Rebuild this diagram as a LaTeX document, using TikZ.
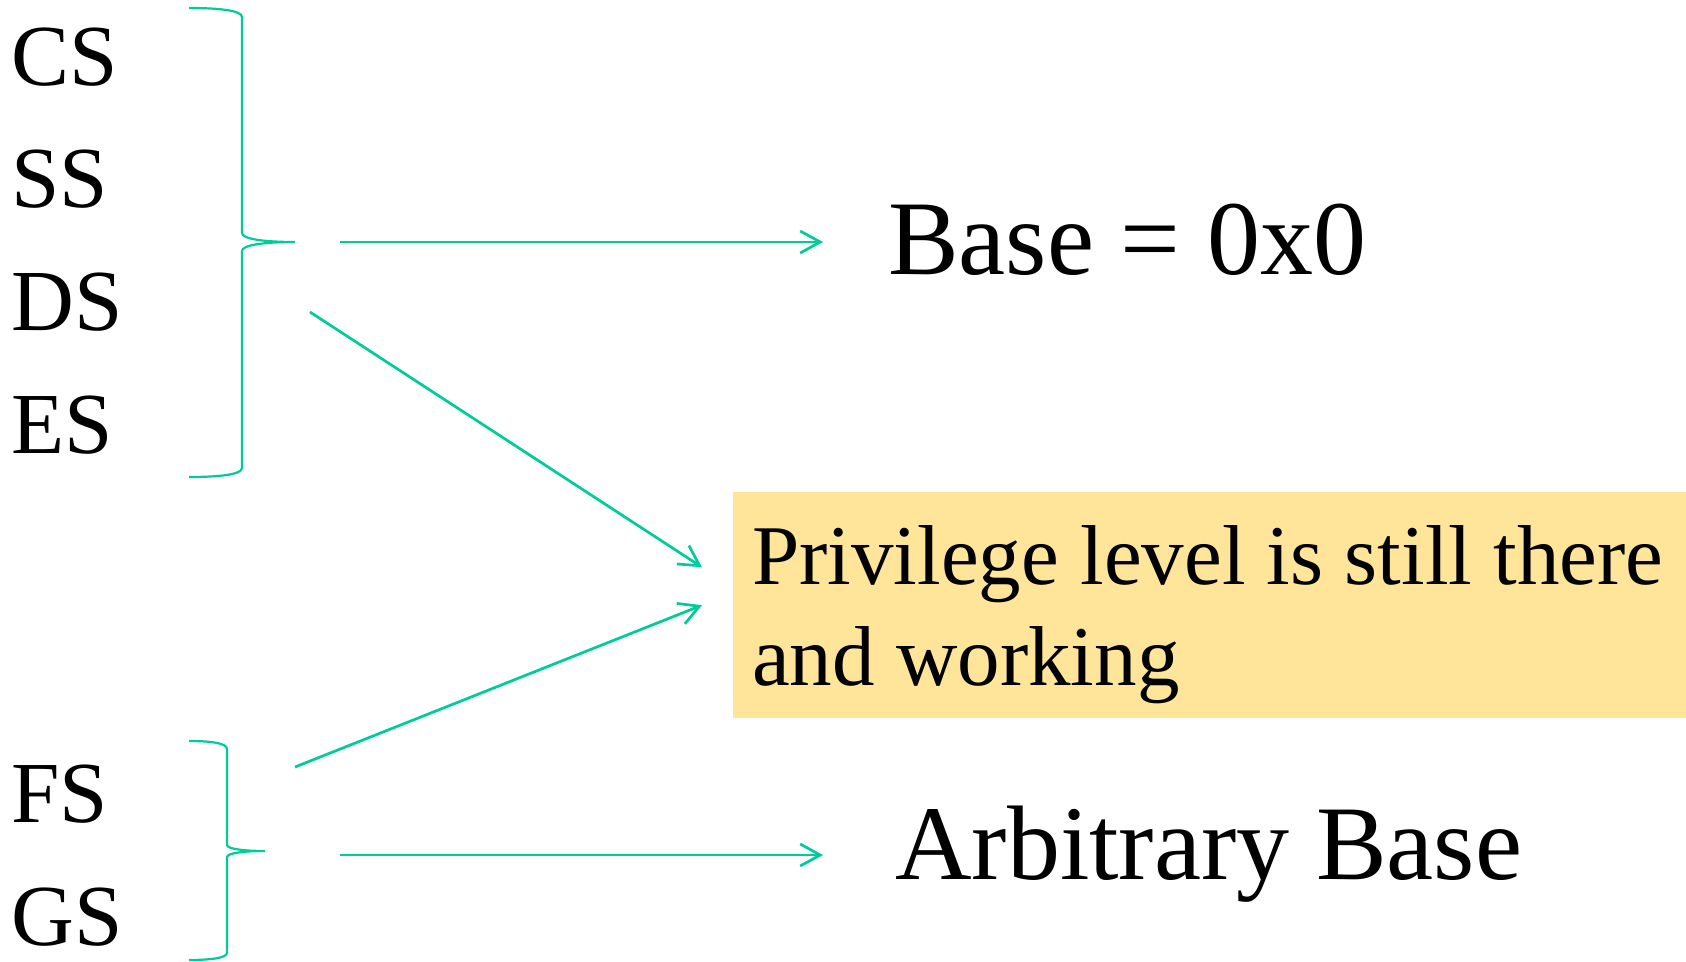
\documentclass[tikz,border=0pt]{standalone}
\usepackage{fontspec}
\setmainfont{Liberation Serif}
\usetikzlibrary{arrows.meta}
\definecolor{segline}{RGB}{0,204,153}
\definecolor{noteyellow}{RGB}{255,229,153}
\tikzstyle{seg} = [anchor = base west, inner sep = 0, font = \fontsize{87}{104}\selectfont]
\tikzstyle{result} = [anchor = base west, inner sep = 0, font = \fontsize{106}{127}\selectfont]
\tikzstyle{note} = [anchor = north west, fill = noteyellow, inner xsep = 19pt, inner ysep = 0,
text width = 915pt, text height = 92pt, text depth = 134pt, align = flush left, font = \fontsize{85}{101}\selectfont]
\tikzstyle{brace} = [draw = segline, line width = 2.2pt]
\tikzstyle{arrow} = [draw = segline, line width = 2.7pt, ->, >={Straight Barb[length=20pt, width=22pt]}]
\begin{document}
\begin{tikzpicture} [x = 1pt, y = -1pt]
\useasboundingbox (0,0) rectangle (1686,961);

\node (cs) [seg] at (11,85) {CS};
\node (ss) [seg] at (11,207) {SS};
\node (ds) [seg] at (11,330) {DS};
\node (es) [seg] at (11,453) {ES};
\node (fs) [seg] at (11,822) {FS};
\node (gs) [seg] at (11,945) {GS};

\node (base) [result] at (888,274) {Base = 0x0};
\node (arb) [result] at (895,879) {Arbitrary Base};
\node (priv) [note] at (733,492) {Privilege level is still there\\and working};

\draw[brace] (189,8) .. controls (216,8) and (242,10) .. (242,17) -- (242,233)
  .. controls (242,239) and (264,242) .. (295,242)
  .. controls (264,242) and (242,245) .. (242,251) -- (242,468)
  .. controls (242,475) and (216,477) .. (189,477);
\draw[brace] (189,741) .. controls (210,741) and (227,743) .. (227,749) -- (227,845)
  .. controls (227,849) and (245,851) .. (265,851)
  .. controls (245,851) and (227,853) .. (227,857) -- (227,953)
  .. controls (227,958) and (210,960) .. (189,960);

\coordinate (tobase) at (340,242);
\coordinate (fromtop) at (310,312);
\coordinate (frombottom) at (295,767);
\coordinate (toarb) at (340,855);

\draw[arrow, shorten > = 65pt] (tobase) -- (tobase -| base.west);
\draw[arrow] (fromtop) -- ([shift = {(-31,-38)}]priv.west);
\draw[arrow] (frombottom) -- ([xshift = -31pt]priv.west);
\draw[arrow, shorten > = 72pt] (toarb) -- (toarb -| arb.west);
\end{tikzpicture}
\end{document}
